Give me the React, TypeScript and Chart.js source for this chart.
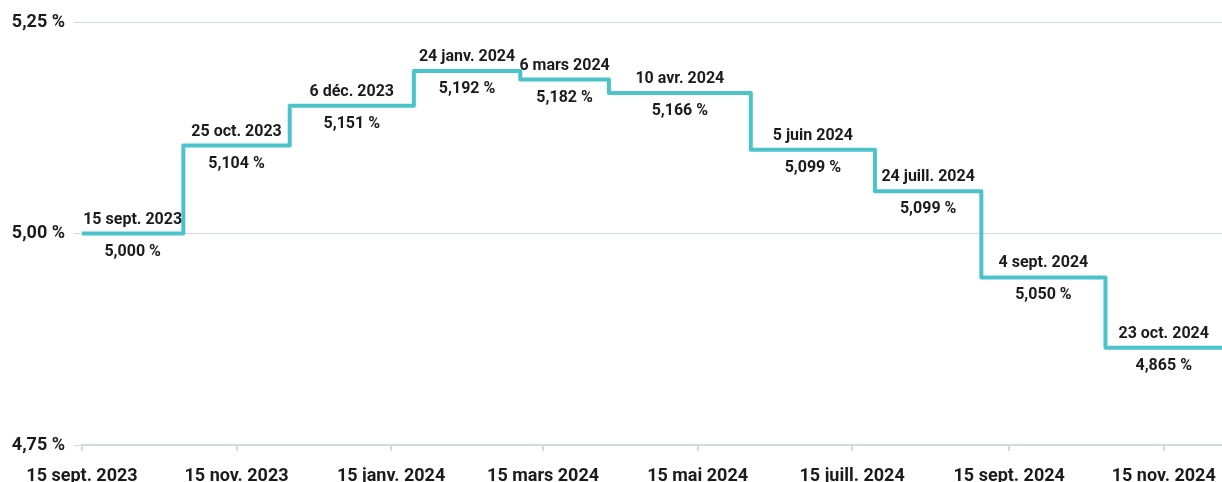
import React, { useEffect, useRef } from "react";
import { Chart, registerables } from "chart.js";

Chart.register(...registerables);

// Step dates (start of each rate period)
const stepDates = [
  "2023-09-15",
  "2023-10-25",
  "2023-12-06",
  "2024-01-24",
  "2024-03-06",
  "2024-04-10",
  "2024-06-05",
  "2024-07-24",
  "2024-09-04",
  "2024-10-23",
];
// Plotted levels (as drawn in the reference)
const rates = [5.0, 5.104, 5.151, 5.192, 5.182, 5.166, 5.099, 5.05, 4.948, 4.865];
// Annotation texts
const dateLabels = [
  "15 sept. 2023",
  "25 oct. 2023",
  "6 déc. 2023",
  "24 janv. 2024",
  "6 mars 2024",
  "10 avr. 2024",
  "5 juin 2024",
  "24 juill. 2024",
  "4 sept. 2024",
  "23 oct. 2024",
];
const rateLabels = [
  "5,000 %",
  "5,104 %",
  "5,151 %",
  "5,192 %",
  "5,182 %",
  "5,166 %",
  "5,099 %",
  "5,099 %",
  "5,050 %",
  "4,865 %",
];
const axisStart = "2023-09-15";
const axisEnd = "2024-12-08";
const xTickDates = [
  "2023-09-15",
  "2023-11-15",
  "2024-01-15",
  "2024-03-15",
  "2024-05-15",
  "2024-07-15",
  "2024-09-15",
  "2024-11-15",
];
const xTickLabels = [
  "15 sept. 2023",
  "15 nov. 2023",
  "15 janv. 2024",
  "15 mars 2024",
  "15 mai 2024",
  "15 juill. 2024",
  "15 sept. 2024",
  "15 nov. 2024",
];
const yTicks = [4.75, 5.0, 5.25];

const toUTC = (s: string) => {
  const [y, m, d] = s.split("-").map(Number);
  return Date.UTC(y, m - 1, d);
};
const day = (s: string) => (toUTC(s) - toUTC(axisStart)) / 86400000;

const FONT = "Roboto";
const TEXT = "#1b1b1b";
const LINE = "#4bc3cb";
const GRID = "#d3dbe2";

export default function App() {
  const ref = useRef<HTMLCanvasElement>(null);
  useEffect(() => {
    document.body.style.margin = "0";
    const xMax = day(axisEnd);
    const points = stepDates.map((d, i) => ({ x: day(d), y: rates[i] }));
    points.push({ x: xMax, y: rates[rates.length - 1] });

    const labelPlugin = {
      id: "stepLabels",
      afterDatasetsDraw(chart: any) {
        const { ctx, scales } = chart;
        const xs = scales.x;
        const ys = scales.y;
        ctx.save();
        ctx.font = `bold 16px ${FONT}`;
        ctx.fillStyle = TEXT;
        ctx.textAlign = "center";
        ctx.textBaseline = "alphabetic";
        stepDates.forEach((d, i) => {
          const x0 = xs.getPixelForValue(day(d));
          const x1 = xs.getPixelForValue(
            i + 1 < stepDates.length ? day(stepDates[i + 1]) : xMax
          );
          const cx = (x0 + x1) / 2;
          const py = ys.getPixelForValue(rates[i]);
          ctx.fillText(dateLabels[i], cx, py - 10);
          ctx.fillText(rateLabels[i], cx, py + 22);
        });
        ctx.restore();
      },
    };

    const chart = new Chart(ref.current!, {
      type: "line",
      data: {
        datasets: [
          {
            data: points,
            stepped: true,
            borderColor: LINE,
            borderWidth: 4,
            borderJoinStyle: "round",
            borderCapStyle: "round",
            pointRadius: 0,
            fill: false,
          },
        ],
      },
      options: {
        animation: false,
        responsive: false,
        layout: { padding: { left: 0, right: 0, top: 22, bottom: 0 } },
        plugins: { legend: { display: false }, tooltip: { enabled: false } },
        scales: {
          x: {
            type: "linear",
            min: 0,
            max: xMax,
            afterBuildTicks: (scale: any) => {
              scale.ticks = xTickDates.map((d) => ({ value: day(d) }));
            },
            afterFit: (scale: any) => {
              scale.height = 500 - 445;
              scale.paddingLeft = 0;
              scale.paddingRight = 0;
            },
            ticks: {
              autoSkip: false,
              maxRotation: 0,
              padding: 15,
              color: TEXT,
              font: { family: FONT, size: 18, weight: "bold" },
              callback: (v: any) => {
                const i = xTickDates.findIndex((d) => day(d) === v);
                return i >= 0 ? xTickLabels[i] : "";
              },
            },
            grid: {
              drawOnChartArea: false,
              drawTicks: true,
              tickLength: 6,
              color: GRID,
              lineWidth: 2,
            },
            border: { display: true, color: GRID, width: 2 },
          },
          y: {
            min: 4.75,
            max: 5.25,
            afterBuildTicks: (scale: any) => {
              scale.ticks = yTicks.map((v) => ({ value: v }));
            },
            afterFit: (scale: any) => {
              scale.width = 82;
              scale.paddingTop = 0;
              scale.paddingBottom = 0;
            },
            ticks: {
              padding: 9,
              color: TEXT,
              font: { family: FONT, size: 18, weight: "bold" },
              callback: (v: any) =>
                Number(v).toFixed(2).replace(".", ",") + " %",
            },
            grid: {
              color: GRID,
              lineWidth: 1,
              tickLength: 8,
            },
            border: { display: false },
          },
        },
      },
      plugins: [labelPlugin],
    });
    return () => chart.destroy();
  }, []);
  return (
    <div style={{ width: 1222, height: 482, overflow: "hidden" }}>
      <canvas ref={ref} width={1222} height={500} style={{ display: "block" }} />
    </div>
  );
}
